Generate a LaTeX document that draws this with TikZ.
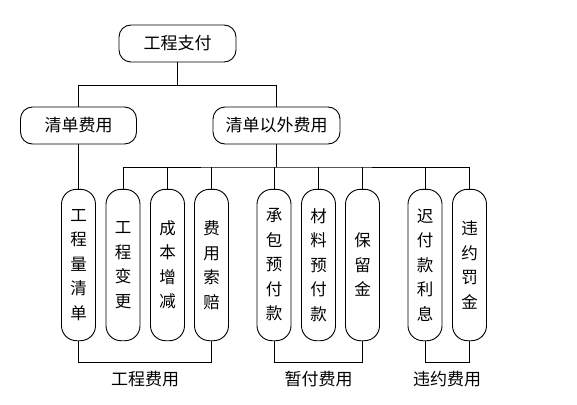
\documentclass[tikz,border=0pt]{standalone}
\usepackage{fontspec}
\newfontfamily\cjk{Noto Sans CJK SC}
\begin{document}
\begin{tikzpicture}[x=1pt,y=-1pt,line width=0.9pt,
  topbox/.style={draw,rounded corners=12pt,minimum height=37pt,inner sep=0pt,font=\cjk\fontsize{17}{17}\selectfont},
  colbox/.style={draw,rounded corners=15pt,minimum width=34pt,minimum height=151.4pt,inner sep=0pt,align=center,font=\cjk\fontsize{16.5}{24.5}\selectfont},
  grplabel/.style={inner sep=0pt,font=\cjk\fontsize{17}{17}\selectfont}]
\useasboundingbox (0,0) rectangle (577,404);
\node[topbox,minimum width=117pt] (top) at (177.5,43.5) {工程支付};
\node[topbox,minimum width=116pt] (qd) at (78.5,125.5) {清单费用};
\node[topbox,minimum width=127pt] (qw) at (276.5,125.5) {清单以外费用};
\node[colbox] (c1) at (78.5,265) {工\\程\\量\\清\\单};
\node[colbox] (c2) at (123,265) {工\\程\\变\\更};
\node[colbox] (c3) at (167.5,265) {成\\本\\增\\减};
\node[colbox] (c4) at (211.5,265) {费\\用\\索\\赔};
\node[colbox] (c5) at (274,265) {承\\包\\预\\付\\款};
\node[colbox] (c6) at (318.5,265) {材\\料\\预\\付\\款};
\node[colbox] (c7) at (362.5,265) {保\\留\\金};
\node[colbox] (c8) at (425,265) {迟\\付\\款\\利\\息};
\node[colbox] (c9) at (469.5,265) {违\\约\\罚\\金};
\node[grplabel] (g1) at (145,379) {工程费用};
\node[grplabel] (g2) at (318.5,379) {暂付费用};
\node[grplabel] (g3) at (447,379) {违约费用};
\coordinate (j1) at (177.5,85);
\coordinate (j2) at (276.5,167);
\coordinate (bl) at (0,362);
\draw (top.south) -- (j1) -| (qd.north);
\draw (j1) -| (qw.north);
\draw (qd.south) -- (c1.north);
\draw (qw.south) -- (j2);
\draw (c2.north) |- (j2) -| (c9.north);
\foreach \c in {c3,c4,c5,c6,c7,c8} \draw (\c.north) -- (\c.north |- j2);
\draw (c1.south) -- (c1.south |- bl) -| (c4.south);
\draw (c5.south) -- (c5.south |- bl) -| (c7.south);
\draw (c8.south) -- (c8.south |- bl) -| (c9.south);
\end{tikzpicture}
\end{document}
